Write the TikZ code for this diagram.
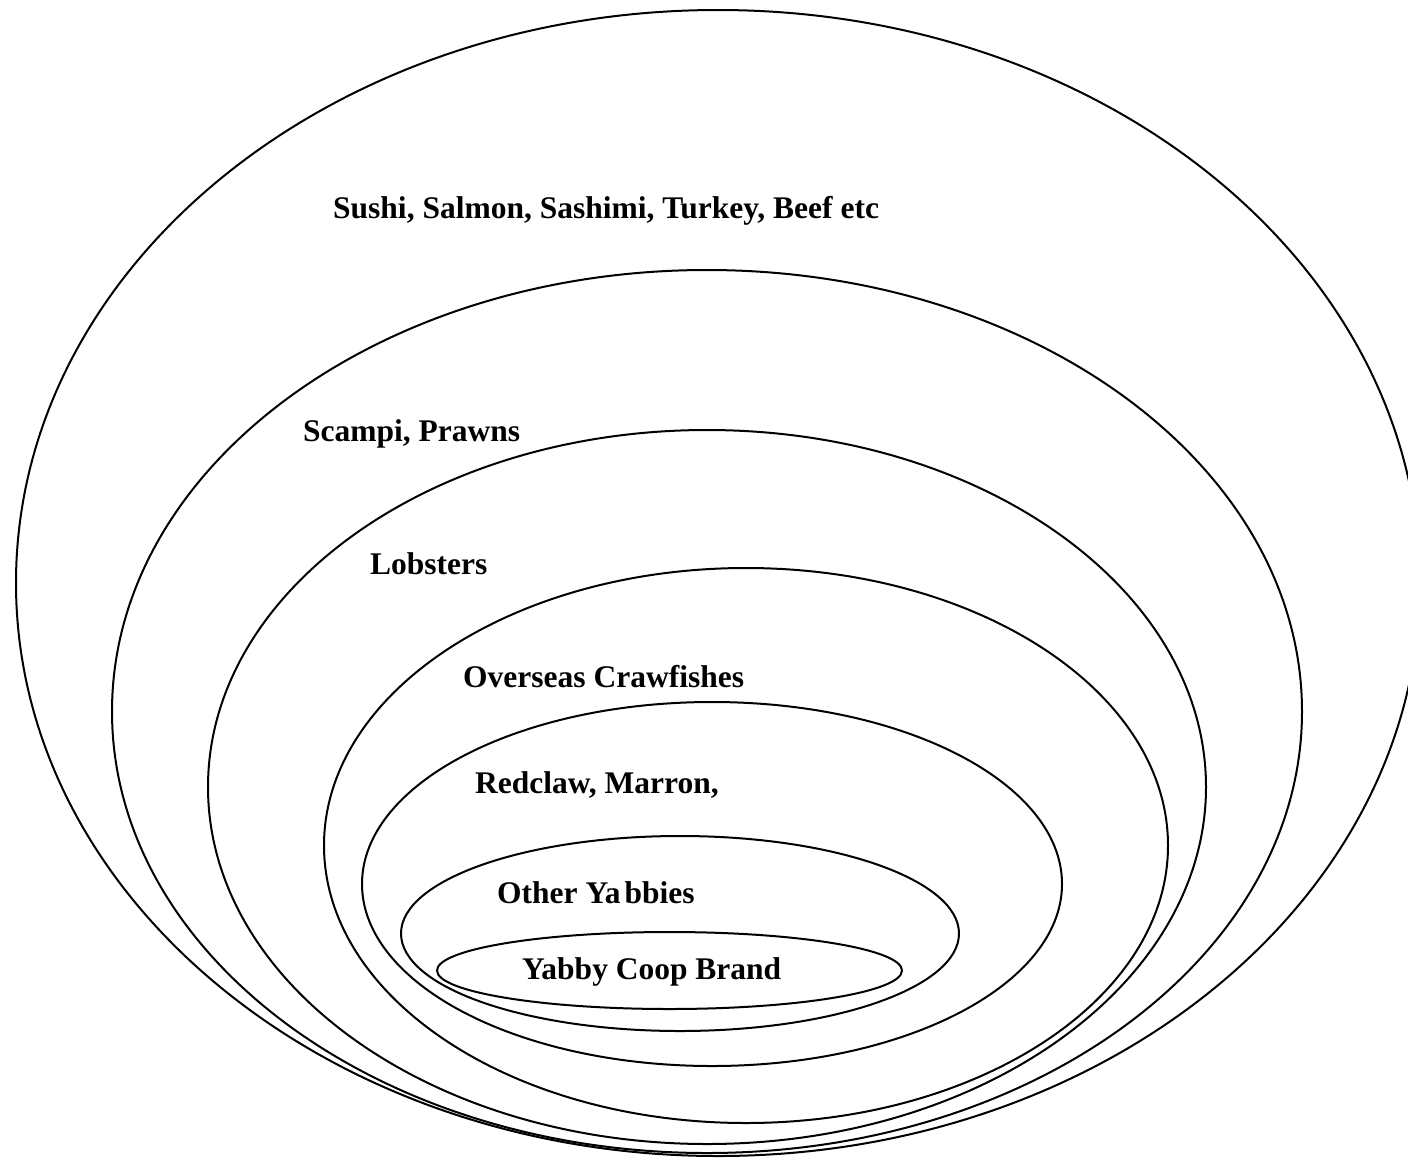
\documentclass[tikz,border=0pt]{standalone}
\usepackage{fontspec}
\setmainfont{Liberation Serif}
\begin{document}
\begin{tikzpicture}[x=1pt,y=-1pt,
  ring/.style={draw=black,line width=2pt},
  lbl/.style={anchor=base west,inner sep=0pt,font=\fontsize{31.5}{36}\selectfont\bfseries}]
\useasboundingbox (0,0) rectangle (1408,1157);
\clip (0,0) rectangle (1408,1157);
\fill[white] (0,0) rectangle (1408,1157);
% nested ellipses
\draw[ring] (718,583) ellipse [x radius=702pt, y radius=573pt];
\draw[ring] (707,711.5) ellipse [x radius=595pt, y radius=441.5pt];
\draw[ring] (707,787) ellipse [x radius=499pt, y radius=357pt];
\draw[ring] (746,845.5) ellipse [x radius=422pt, y radius=277.5pt];
\draw[ring] (712,884) ellipse [x radius=350pt, y radius=182pt];
\draw[ring] (680,933.5) ellipse [x radius=279pt, y radius=97.5pt];
\draw[ring] (669.5,970.5) ellipse [x radius=232.5pt, y radius=38.5pt];
% labels
\node[lbl] (t1) at (333,218) {Sushi, Salmon, Sashimi, Turkey, Beef etc};
\node[lbl] (t2) at (303,441) {Scampi, Prawns};
\node[lbl] (t3) at (370,574) {Lobsters};
\node[lbl] (t4) at (463,687) {Overseas Crawfishes};
\node[lbl] (t5) at (475,793) {Redclaw, Marron,};
\node[lbl] (t6) at (497,903) {Other Ya\kern4pt bbies};
\node[lbl] (t7) at (522,979) {Yabby Coop Brand};
\end{tikzpicture}
\end{document}
